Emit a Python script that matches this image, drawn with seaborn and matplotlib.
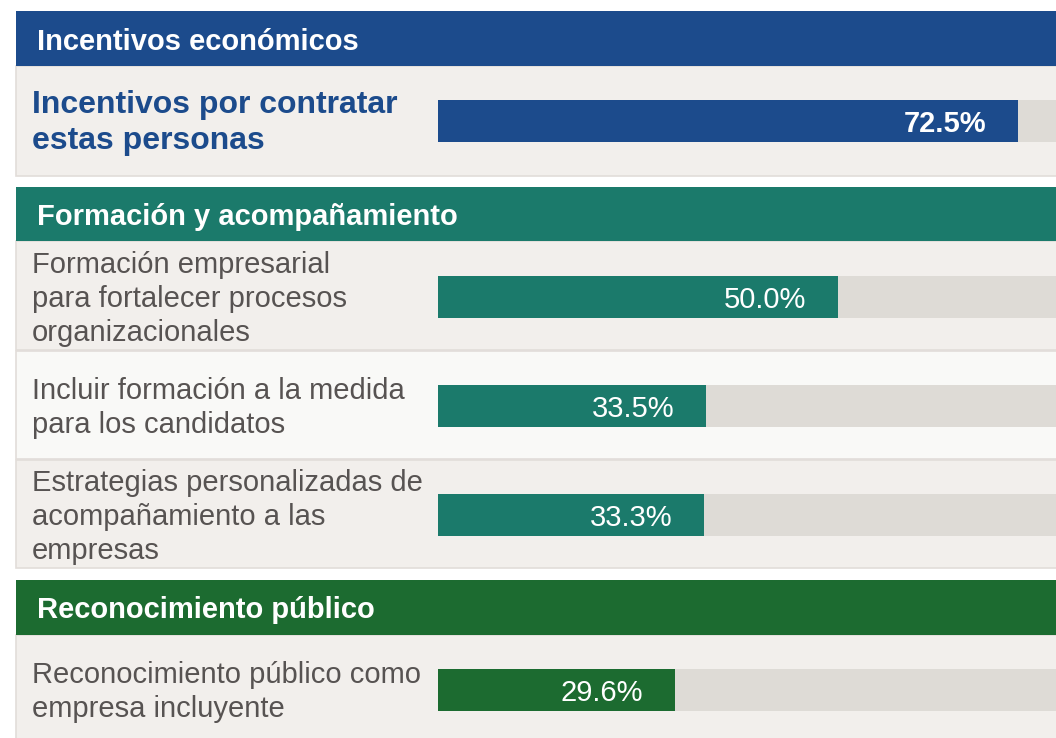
import matplotlib
matplotlib.use("Agg")
import matplotlib.pyplot as plt
import seaborn as sns
from matplotlib.patches import Rectangle

# --- data ---
groups = ['Incentivos económicos', 'Formación y acompañamiento', 'Reconocimiento público']
group_colors = ['#1c4b8c', '#1b7a6b', '#1c6b30']
items = [
    'Incentivos por contratar\nestas personas',
    'Formación empresarial\npara fortalecer procesos\norganizacionales',
    'Incluir formación a la medida\npara los candidatos',
    'Estrategias personalizadas de\nacompañamiento a las\nempresas',
    'Reconocimiento público como\nempresa incluyente',
]
item_group = [0, 1, 1, 1, 2]
values = [72.5, 50.0, 33.5, 33.3, 29.6]

W, H = 1056, 738
sns.set_theme(style="white")
plt.rcParams['font.family'] = ['Liberation Sans', 'DejaVu Sans']

fig = plt.figure(figsize=(W / 100, H / 100), dpi=100)
fig.patch.set_facecolor('white')


def box(x0, y0, x1, y1):
    # pixel box (top-down) -> figure fraction rect
    return [x0 / W, 1 - y1 / H, (x1 - x0) / W, (y1 - y0) / H]


def rect(x0, y0, x1, y1, fc, ec='none', lw=0):
    l, b, w, h = box(x0, y0, x1, y1)
    fig.add_artist(Rectangle((l, b), w, h, transform=fig.transFigure,
                             facecolor=fc, edgecolor=ec, linewidth=lw, zorder=-5))


# header bands (top, bottom)
headers = [(11, 66), (187, 241), (580, 635)]
# item rows (top, bottom) and bar centres
rows = [(66, 176), (241, 350), (351, 459), (460, 568), (635, 745)]
row_bg = ['#f2efec', '#f2efec', '#f9f9f7', '#f2efec', '#f2efec']
bar_c = [121, 297, 406, 515, 690]
bar_h = 42
x_start = 438
px_per_pct = 8.0  # 50% -> 400 px

for (t, b), bg in zip(rows, row_bg):
    rect(16, t, W + 5, b, bg, ec='#e2ddd9', lw=1.2)

for (t, b), name, col in zip(headers, groups, group_colors):
    rect(16, t, W + 5, b, col)
    fig.text(37 / W, 1 - ((t + b) / 2 + 3) / H, name, color='white', fontsize=21,
             fontweight='bold', va='center', ha='left')

track = '#dedbd6'
xmax = (W - x_start) / px_per_pct

for i, (label, g, v) in enumerate(zip(items, item_group, values)):
    first = i == 0
    fig.text(32 / W, 1 - (bar_c[i] + 2) / H, label,
             color=group_colors[0] if first else '#575352',
             fontsize=23 if first else 21, fontweight='bold' if first else 'normal',
             va='center', ha='left', linespacing=1.26)

    ax = fig.add_axes(box(x_start, bar_c[i] - bar_h / 2, W, bar_c[i] + bar_h / 2))
    ax.set_zorder(2)
    ax.patch.set_alpha(0)
    sns.barplot(x=[100], y=[''], orient='h', color=track, width=1,
                saturation=1, linewidth=0, ax=ax)
    sns.barplot(x=[v], y=[''], orient='h', color=group_colors[g], width=1,
                saturation=1, linewidth=0, ax=ax)
    ax.set_xlim(0, xmax)
    ax.set_ylim(0.5, -0.5)
    ax.set_axis_off()
    ax.annotate(f'{v:.1f}%', xy=(v, 0), xytext=(-23, -2), textcoords='offset points',
                ha='right', va='center', color='white', fontsize=21,
                fontweight='bold' if first else 'normal')

fig.savefig('out.png', dpi=100)
